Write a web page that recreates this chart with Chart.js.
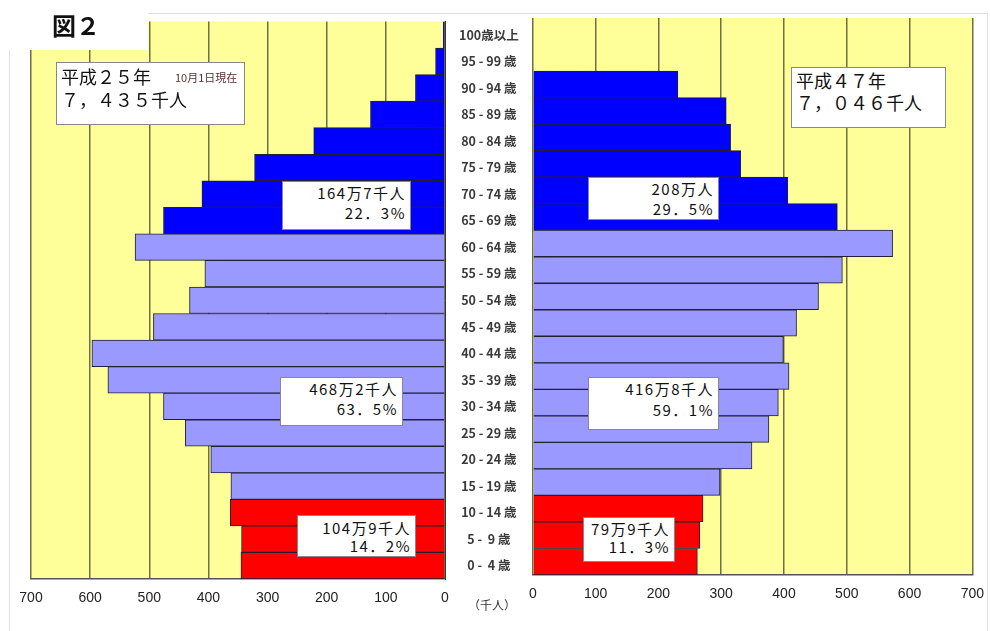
<!DOCTYPE html>
<html lang="ja">
<head>
<meta charset="utf-8">
<script src="https://cdn.jsdelivr.net/npm/chart.js@4"></script>
<style>
  body { margin: 0; background: #fff; font-family: "Noto Sans CJK JP", sans-serif; }
  #wrap { position: relative; width: 990px; height: 631px; overflow: hidden; }
  canvas { position: absolute; top: 0; }
  #frame { position: absolute; left: 9px; top: 13px; width: 977px; height: 640px; border: 1px solid #e2e2e2; }
  .box { position: absolute; background: #fff; border: 1px solid #888; color: #111; box-sizing: border-box; }
  .num { text-align: right; font-size: 15px; line-height: 20px; letter-spacing: 1.5px; padding: 1px 4px 0 0; }
  .ttl { font-size: 18px; line-height: 22px; padding: 1px 0 0 4px; }
  .ttl small { font-size: 11px; margin-left: 24px; color: #5a3030; vertical-align: 2px; }
  #fig { position: absolute; left: 0; top: 0; width: 148px; height: 50px; background: #fff; }
  #fig span { position: absolute; left: 52px; top: 10px; font-size: 24px; font-weight: bold; line-height: 30px; color: #111; }
  #unit { position: absolute; left: 468px; top: 596px; font-size: 12px; color: #333; }
</style>
</head>
<body>
<div id="wrap">
  <div id="frame"></div>
  <canvas id="leftChart" width="525" height="631" style="left:0"></canvas>
  <!-- x軸ラベルの余白(15px / 23px)込みで、グラフ領域が 533〜972px になる位置 -->
  <canvas id="rightChart" width="477" height="631" style="left:518px"></canvas>
  <div id="fig"><span>図２</span></div>

  <div class="box ttl" style="left:56px;top:62px;width:189px;height:63px;padding-top:2px">平成２５年<small>10月1日現在</small><br>７，４３５千人</div>
  <div class="box num" style="left:282px;top:181px;width:129px;height:49px">164万7千人<br>22．3%</div>
  <div class="box num" style="left:280px;top:377px;width:123px;height:49px">468万2千人<br>63．5%</div>
  <div class="box num" style="left:297px;top:515px;width:119px;height:42px;line-height:18px;padding-top:3px">104万9千人<br>14．2%</div>

  <div class="box ttl" style="left:791px;top:67px;width:155px;height:61px">平成４７年<br>７，０４６千人</div>
  <div class="box num" style="left:588px;top:177px;width:131px;height:43px">208万人<br>29．5%</div>
  <div class="box num" style="left:588px;top:377px;width:131px;height:53px;line-height:21px;padding-top:0">416万8千人<br>59．1%</div>
  <div class="box num" style="left:583px;top:517px;width:92px;height:45px;line-height:18px;padding-top:2px">79万9千人<br>11．3%</div>

  <div id="unit">（千人）</div>
</div>

<script>
// 年齢5歳階級（上から100歳以上 → 0-4歳）
var ageGroups = ['100歳以上', '95 - 99 歳', '90 - 94 歳', '85 - 89 歳', '80 - 84 歳',
  '75 - 79 歳', '70 - 74 歳', '65 - 69 歳', '60 - 64 歳', '55 - 59 歳', '50 - 54 歳',
  '45 - 49 歳', '40 - 44 歳', '35 - 39 歳', '30 - 34 歳', '25 - 29 歳', '20 - 24 歳',
  '15 - 19 歳', '10 - 14 歳', '5 -  9 歳', '0 -  4 歳'];

// 人口（千人）平成25年
var popH25 = [3, 16, 50, 126, 222, 322, 411, 476, 524, 406, 432, 493, 597, 570, 476, 439, 396, 362, 363, 344, 345];
// 人口（千人）平成47年
var popH47 = [0, 0, 231, 308, 315, 331, 406, 485, 573, 493, 455, 420, 399, 408, 391, 376, 349, 298, 271, 266, 262];

var xTicks = [0, 100, 200, 300, 400, 500, 600, 700];

// 65歳以上 / 15-64歳 / 0-14歳 で色分け
function barColour(i) {
    if (i <= 7) return '#0000ff';
    if (i <= 17) return '#9999ff';
    return '#ff0000';
}
var colours = ageGroups.map(function(g, i) { return barColour(i); });

var gridColour = '#6e6e4a';

// グラフ領域の黄色い背景
var plotBackground = {
    id: 'plotBackground',
    beforeDraw: function(chart) {
        var a = chart.chartArea;
        chart.ctx.save();
        chart.ctx.fillStyle = '#ffff99';
        chart.ctx.fillRect(a.left, a.top, a.right - a.left, a.bottom - a.top);
        chart.ctx.restore();
    }
};

function xScale(reverse, h) {
    return {
        reverse: reverse,
        min: 0,
        max: 700,
        afterBuildTicks: function(s) { s.ticks = xTicks.map(function(v) { return { value: v }; }); },
        ticks: { color: '#222', font: { family: '"Liberation Sans", Arial, sans-serif', size: 14 }, padding: 11 },
        grid: { color: gridColour, lineWidth: 1.5, drawTicks: false },
        border: { color: '#555', width: 1.5 },
        afterFit: function(s) { s.height = h; }
    };
}

function dataset(values) {
    return {
        data: values,
        backgroundColor: colours,
        borderColor: '#202030',
        borderWidth: 1,
        borderSkipped: 'start',
        barPercentage: 1,
        categoryPercentage: 1
    };
}

Chart.defaults.font.family = '"Noto Sans CJK JP", sans-serif';

const leftChart = new Chart(document.getElementById('leftChart'), {
    type: 'bar',
    data: { labels: ageGroups, datasets: [dataset(popH25)] },
    options: {
        indexAxis: 'y',
        responsive: false,
        animation: false,
        layout: { padding: { left: 31, right: 0, top: 14, bottom: 0 } },
        plugins: { legend: { display: false }, tooltip: { enabled: false } },
        scales: {
            x: xScale(true, 52),
            y: {
                position: 'right',
                grid: { display: false, drawTicks: false },
                border: { color: '#333', width: 1 },
                ticks: { crossAlign: 'center', padding: 14, color: '#3a3a3a', font: { size: 12.5, weight: 'bold' } },
                afterFit: function(s) { s.width = 80; }
            }
        }
    },
    plugins: [plotBackground]
});

const rightChart = new Chart(document.getElementById('rightChart'), {
    type: 'bar',
    data: { labels: ageGroups, datasets: [dataset(popH47)] },
    options: {
        indexAxis: 'y',
        responsive: false,
        animation: false,
        layout: { padding: { left: 0, right: 0, top: 18, bottom: 0 } },
        plugins: { legend: { display: false }, tooltip: { enabled: false } },
        scales: {
            x: xScale(false, 56),
            y: { display: false }
        }
    },
    plugins: [plotBackground]
});
</script>
</body>
</html>
